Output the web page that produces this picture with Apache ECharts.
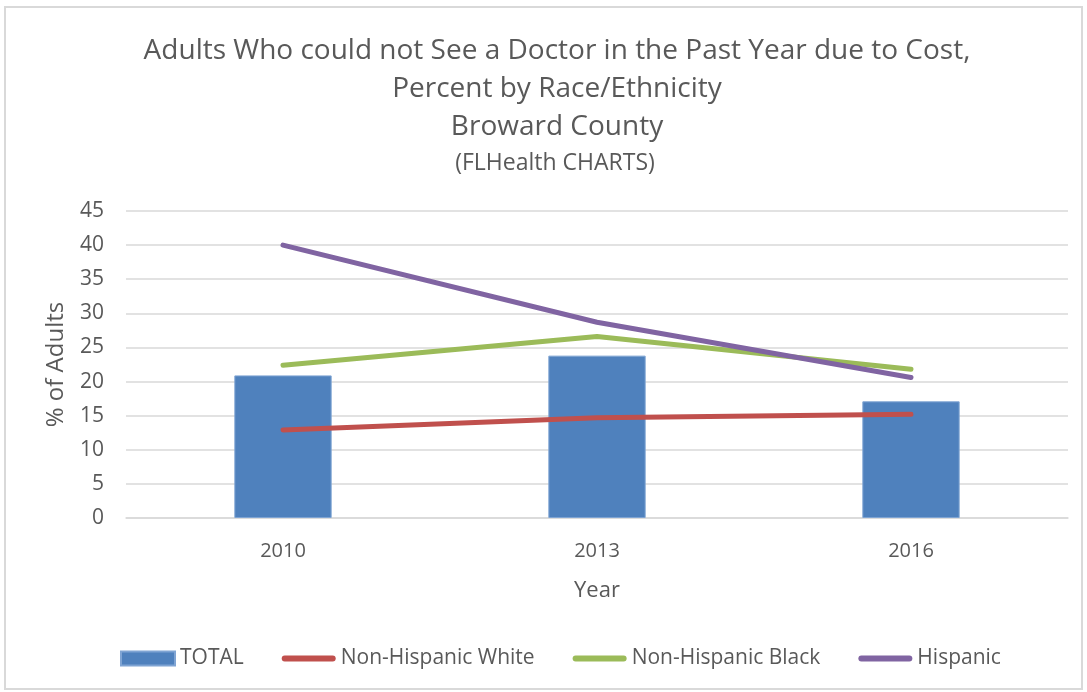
<!DOCTYPE html>
<html>
<head>
<meta charset="utf-8">
<script src="https://cdn.jsdelivr.net/npm/echarts@6/dist/echarts.min.js"></script>
<style>
  html, body { margin: 0; padding: 0; background: #fff; }
  #chart { width: 1087px; height: 692px; }
</style>
</head>
<body>
<div id="chart"></div>
<script>
// data
var years = ['2010', '2013', '2016'];
var total = [20.9, 23.8, 17.1];
var white = [12.9, 14.7, 15.2];
var black = [22.4, 26.6, 21.8];
var hispanic = [40.0, 28.7, 20.6];
var yTicks = [0, 45, 5]; // min, max, step

var FONT = 'Open Sans';
var GREY = '#595959';
var lineIcon = 'path://M0,0M54,14M3,4h48a3,3 0 0 1 0,6h-48a3,3 0 0 1 0,-6z';

var chart = echarts.init(document.getElementById('chart'));

var option = {
  backgroundColor: '#fff',
  animation: false,
  textStyle: { fontFamily: FONT },
  title: [{
    text: 'Adults Who could not See a Doctor in the Past Year due to Cost,\nPercent by Race/Ethnicity\nBroward County',
    left: 552,
    textAlign: 'center',
    top: 27,
    textStyle: { fontFamily: FONT, fontSize: 28, fontWeight: 'normal', color: GREY, lineHeight: 38 }
  }, {
    text: '(FLHealth CHARTS)',
    left: 550,
    textAlign: 'center',
    top: 147,
    textStyle: { fontFamily: FONT, fontSize: 23, fontWeight: 'normal', color: GREY }
  }],
  legend: {
    bottom: 18,
    left: 115,
    itemWidth: 54,
    itemHeight: 14,
    itemGap: 38,
    textStyle: { fontFamily: FONT, fontSize: 21, color: GREY },
    data: [
      { name: 'TOTAL', icon: 'rect' },
      { name: 'Non-Hispanic White', icon: lineIcon },
      { name: 'Non-Hispanic Black', icon: lineIcon },
      { name: 'Hispanic', icon: lineIcon }
    ]
  },
  grid: { left: 126, right: 19, top: 211, bottom: 174 },
  xAxis: {
    type: 'category',
    data: years,
    name: 'Year',
    nameLocation: 'middle',
    nameGap: 62,
    nameTextStyle: { fontFamily: FONT, fontSize: 22, color: GREY },
    axisLine: { show: true, lineStyle: { color: '#d9d9d9', width: 1.5 } },
    axisTick: { show: false },
    axisLabel: { fontFamily: FONT, fontSize: 20, color: GREY, margin: 23 }
  },
  yAxis: {
    type: 'value',
    min: yTicks[0],
    max: yTicks[1],
    interval: yTicks[2],
    name: '% of Adults',
    nameLocation: 'middle',
    nameGap: 58,
    nameTextStyle: { fontFamily: FONT, fontSize: 24, color: GREY },
    axisLine: { show: false },
    axisTick: { show: false },
    axisLabel: { fontFamily: FONT, fontSize: 21, color: GREY, margin: 22 },
    splitLine: { lineStyle: { color: '#d9d9d9', width: 1.5 } }
  },
  series: [{
    name: 'TOTAL',
    type: 'bar',
    data: total,
    barWidth: '31%',
    itemStyle: { color: '#4F81BD', borderColor: '#7FA4D3', borderWidth: 1 }
  }, {
    name: 'Non-Hispanic White',
    type: 'line',
    data: white,
    symbol: 'none',
    color: '#C0504D',
    lineStyle: { width: 5, color: '#C0504D', cap: 'round', join: 'round' }
  }, {
    name: 'Non-Hispanic Black',
    type: 'line',
    data: black,
    symbol: 'none',
    color: '#9BBB59',
    lineStyle: { width: 5, color: '#9BBB59', cap: 'round', join: 'round' }
  }, {
    name: 'Hispanic',
    type: 'line',
    data: hispanic,
    symbol: 'none',
    color: '#8064A2',
    lineStyle: { width: 5, color: '#8064A2', cap: 'round', join: 'round' }
  }],
  graphic: [{
    type: 'rect',
    shape: { x: 5, y: 7, width: 1077, height: 682 },
    style: { fill: null, stroke: '#d9d9d9', lineWidth: 2 },
    silent: true,
    z: -1
  }]
};

chart.setOption(option);
</script>
</body>
</html>
